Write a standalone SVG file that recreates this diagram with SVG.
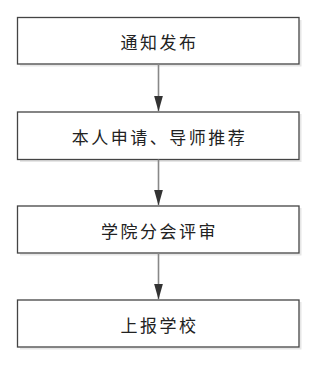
<svg xmlns="http://www.w3.org/2000/svg" width="320" height="368" viewBox="0 0 320 368">
<defs>
<style>
.box{fill:#fff;stroke:#444;stroke-width:1.3}
.shadow{fill:none;stroke:#e6e6e6;stroke-width:2}
.inner{fill:none;stroke:#f0f0f0;stroke-width:1.5}
.lbl{font-family:"Noto Sans CJK SC","Noto Sans",sans-serif;font-size:17px;fill:#222;text-anchor:middle;dominant-baseline:central;letter-spacing:2.5px}
.conn{stroke:#888;stroke-width:1.6;fill:none}
</style>
<marker id="ah" markerWidth="16" markerHeight="9" refX="16" refY="4.5" orient="auto" markerUnits="userSpaceOnUse" viewBox="0 0 16 9">
<path d="M0,0 L16,4.5 L0,9 Z" fill="#333"/>
</marker>
</defs>
<rect width="320" height="368" fill="#fff"/>
<g id="n1">
<path class="shadow" d="M20,65.5 H300.5 V20"/>
<rect class="inner" x="20" y="20" width="276" height="42"/>
<rect class="box" x="17.5" y="17.5" width="281.5" height="46.5"/>
<text class="lbl" x="159.5" y="41">通知发布</text>
</g>
<g id="n2">
<path class="shadow" d="M20,161 H300.5 V114"/>
<rect class="inner" x="20" y="114" width="276" height="43"/>
<rect class="box" x="17.5" y="112" width="281.5" height="47.5"/>
<text class="lbl" x="159.5" y="136">本人申请、导师推荐</text>
</g>
<g id="n3">
<path class="shadow" d="M20,254.5 H300.5 V208"/>
<rect class="inner" x="20" y="208.5" width="276" height="42"/>
<rect class="box" x="17.5" y="206" width="281.5" height="47"/>
<text class="lbl" x="159.5" y="230">学院分会评审</text>
</g>
<g id="n4">
<path class="shadow" d="M20,348.5 H300.5 V302"/>
<rect class="inner" x="20" y="302.5" width="276" height="42"/>
<rect class="box" x="17.5" y="300" width="281.5" height="47"/>
<text class="lbl" x="159.5" y="324">上报学校</text>
</g>
<g id="connectors">
<line class="conn" x1="158.5" y1="64" x2="158.5" y2="111.5" marker-end="url(#ah)"/>
<line class="conn" x1="158.5" y1="159.5" x2="158.5" y2="205.5" marker-end="url(#ah)"/>
<line class="conn" x1="158.5" y1="253" x2="158.5" y2="299.5" marker-end="url(#ah)"/>
</g>
</svg>
